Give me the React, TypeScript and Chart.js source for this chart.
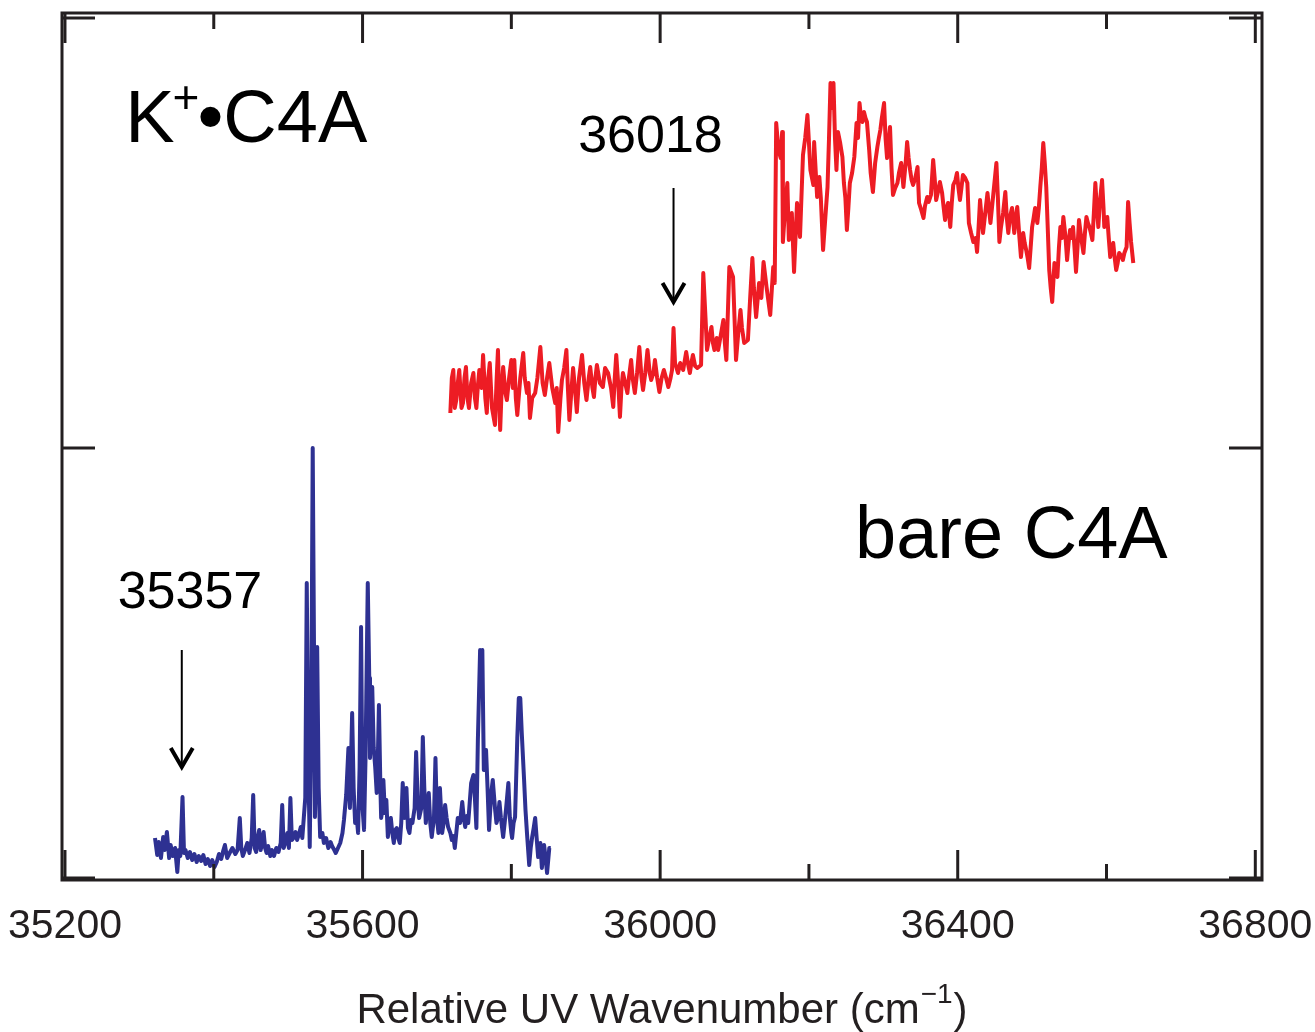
import React, { useEffect, useRef } from "react";
import { Chart, registerables } from "chart.js";

Chart.register(...registerables);

// ---------- data ----------
// bare C4A spectrum: [wavenumber (cm^-1), intensity (arb.)]
const bareSpectrum: [number, number][] = [
  [35321, 40], [35324, 23], [35326, 36], [35329, 20], [35332, 41], [35334, 28], [35337, 46], [35340, 20],
  [35342, 33], [35345, 22], [35348, 30], [35351, 6], [35353, 28], [35355, 22], [35358, 81], [35360, 25],
  [35362, 28], [35365, 20], [35368, 26], [35371, 18], [35374, 24], [35377, 16], [35380, 22], [35383, 17],
  [35386, 23], [35389, 14], [35392, 19], [35395, 12], [35398, 18], [35401, 11], [35404, 16], [35407, 24],
  [35410, 19], [35413, 28], [35415, 33], [35418, 20], [35422, 26], [35425, 30], [35429, 24], [35432, 28],
  [35435, 60], [35437, 30], [35439, 22], [35442, 28], [35445, 35], [35448, 25], [35451, 40], [35453, 83],
  [35455, 30], [35457, 26], [35459, 40], [35461, 48], [35463, 28], [35465, 35], [35467, 46], [35469, 30],
  [35471, 25], [35473, 32], [35476, 22], [35478, 28], [35481, 22], [35484, 30], [35487, 26], [35490, 35],
  [35492, 73], [35494, 30], [35496, 35], [35499, 45], [35501, 30], [35503, 80], [35505, 38], [35507, 40],
  [35510, 46], [35512, 38], [35515, 45], [35517, 51], [35519, 40], [35521, 60], [35523, 80], [35525, 295],
  [35527, 120], [35529, 31], [35531, 150], [35533, 430], [35535, 200], [35536, 61], [35538, 160], [35539, 231],
  [35541, 90], [35543, 41], [35546, 45], [35548, 35], [35551, 40], [35554, 30], [35557, 36], [35559, 32],
  [35562, 28], [35564, 25], [35567, 30], [35570, 35], [35573, 45], [35575, 58], [35578, 83], [35581, 130],
  [35583, 70], [35586, 165], [35588, 90], [35590, 55], [35592, 62], [35594, 45], [35596, 110], [35598, 251],
  [35600, 70], [35602, 48], [35604, 120], [35605, 180], [35607, 295], [35609, 200], [35610, 120], [35612, 160],
  [35613, 191], [35615, 130], [35617, 111], [35619, 85], [35620, 100], [35622, 173], [35624, 90], [35625, 60],
  [35627, 70], [35628, 98], [35630, 65], [35632, 78], [35634, 41], [35636, 55], [35638, 60], [35640, 45],
  [35642, 35], [35644, 48], [35646, 50], [35648, 40], [35650, 35], [35652, 55], [35654, 95], [35656, 60],
  [35659, 90], [35661, 50], [35663, 45], [35665, 58], [35667, 55], [35670, 70], [35672, 126], [35674, 80],
  [35676, 60], [35679, 70], [35681, 141], [35683, 90], [35685, 55], [35687, 70], [35689, 85], [35691, 55],
  [35693, 41], [35696, 60], [35698, 120], [35700, 60], [35702, 45], [35704, 90], [35707, 45], [35709, 55],
  [35711, 73], [35713, 60], [35715, 51], [35718, 45], [35720, 38], [35722, 42], [35724, 30], [35726, 45],
  [35728, 60], [35731, 55], [35734, 76], [35736, 60], [35738, 51], [35740, 62], [35742, 55], [35744, 75],
  [35746, 95], [35749, 103], [35751, 80], [35753, 50], [35755, 138], [35758, 228], [35760, 220], [35761, 228],
  [35763, 108], [35766, 128], [35768, 90], [35770, 48], [35773, 85], [35775, 98], [35778, 70], [35780, 55],
  [35782, 60], [35784, 76], [35786, 60], [35789, 41], [35791, 55], [35793, 70], [35796, 95], [35798, 60],
  [35800, 45], [35801, 40], [35803, 55], [35805, 61], [35808, 140], [35810, 180], [35812, 180], [35814, 145],
  [35817, 100], [35819, 68], [35821, 45], [35824, 13], [35826, 30], [35828, 41], [35830, 50], [35832, 60],
  [35834, 40], [35836, 21], [35839, 35], [35841, 10], [35844, 33], [35846, 20], [35848, 5], [35851, 30],
  [35853, 30],
];

// K+•C4A spectrum: [wavenumber (cm^-1), intensity (arb., offset)]
const complexSpectrum: [number, number][] = [
  [35718, 465], [35720, 500], [35722, 508], [35724, 470], [35726, 478], [35728, 495], [35730, 508], [35733, 470],
  [35735, 475], [35737, 500], [35739, 511], [35741, 480], [35743, 470], [35746, 495], [35749, 505], [35751, 480],
  [35753, 470], [35755, 492], [35757, 508], [35760, 490], [35762, 523], [35765, 480], [35767, 465], [35769, 500],
  [35771, 515], [35774, 470], [35778, 453], [35780, 495], [35782, 528], [35784, 470], [35785, 448], [35787, 490],
  [35789, 511], [35792, 485], [35794, 478], [35797, 500], [35800, 518], [35802, 490], [35804, 518], [35806, 480],
  [35808, 463], [35812, 500], [35816, 525], [35818, 500], [35821, 485], [35823, 495], [35825, 460], [35828, 480],
  [35832, 485], [35835, 500], [35839, 531], [35842, 495], [35845, 483], [35848, 500], [35851, 515], [35855, 490],
  [35859, 475], [35861, 490], [35863, 446], [35866, 480], [35868, 498], [35871, 510], [35874, 528], [35876, 490],
  [35878, 458], [35881, 490], [35883, 510], [35886, 485], [35888, 466], [35891, 500], [35895, 523], [35898, 495],
  [35901, 478], [35904, 500], [35906, 511], [35909, 490], [35911, 481], [35913, 500], [35915, 513], [35919, 495],
  [35923, 491], [35926, 510], [35930, 505], [35934, 490], [35937, 471], [35939, 500], [35941, 523], [35944, 490],
  [35946, 461], [35948, 490], [35950, 505], [35953, 495], [35956, 485], [35958, 500], [35961, 518], [35963, 500],
  [35966, 485], [35969, 505], [35972, 531], [35975, 500], [35977, 488], [35980, 505], [35983, 528], [35986, 505],
  [35988, 498], [35991, 505], [35993, 518], [35996, 500], [35999, 486], [36002, 500], [36005, 508], [36008, 500],
  [36011, 491], [36014, 500], [36016, 508], [36018, 550], [36020, 515], [36024, 505], [36027, 515], [36031, 508],
  [36035, 526], [36038, 512], [36040, 505], [36042, 515], [36044, 523], [36047, 512], [36050, 510], [36055, 513],
  [36058, 605], [36061, 560], [36063, 528], [36066, 540], [36069, 551], [36071, 535], [36073, 528], [36076, 540],
  [36078, 528], [36082, 545], [36085, 558], [36087, 535], [36089, 518], [36093, 611], [36098, 601], [36102, 518],
  [36105, 545], [36108, 568], [36110, 550], [36113, 535], [36118, 538], [36121, 580], [36124, 620], [36126, 590],
  [36129, 561], [36133, 595], [36136, 580], [36139, 616], [36143, 591], [36148, 563], [36152, 611], [36154, 595],
  [36156, 755], [36159, 728], [36162, 720], [36164, 746], [36165, 636], [36168, 670], [36171, 695], [36173, 638],
  [36177, 665], [36180, 606], [36184, 675], [36188, 641], [36192, 723], [36195, 740], [36198, 763], [36202, 708],
  [36206, 693], [36207, 736], [36211, 681], [36214, 701], [36216, 680], [36219, 628], [36222, 660], [36225, 691],
  [36227, 740], [36229, 795], [36231, 770], [36233, 795], [36235, 740], [36237, 708], [36239, 746], [36242, 735],
  [36245, 721], [36247, 695], [36249, 680], [36251, 648], [36253, 670], [36255, 695], [36258, 705], [36261, 721],
  [36264, 755], [36266, 740], [36268, 775], [36270, 760], [36272, 756], [36274, 766], [36276, 760], [36278, 756],
  [36281, 728], [36283, 705], [36286, 686], [36289, 715], [36292, 731], [36294, 740], [36296, 748], [36298, 760],
  [36301, 775], [36303, 740], [36305, 720], [36307, 735], [36309, 751], [36311, 710], [36313, 683], [36316, 690],
  [36319, 695], [36321, 705], [36324, 715], [36327, 691], [36330, 715], [36332, 736], [36334, 720], [36336, 708],
  [36338, 698], [36340, 693], [36343, 700], [36346, 711], [36348, 675], [36351, 668], [36354, 660], [36356, 672],
  [36359, 681], [36361, 676], [36364, 683], [36367, 718], [36369, 700], [36371, 678], [36374, 688], [36376, 696],
  [36379, 685], [36381, 671], [36383, 658], [36385, 670], [36387, 675], [36390, 651], [36392, 675], [36394, 693],
  [36397, 698], [36399, 705], [36401, 690], [36403, 678], [36405, 690], [36407, 703], [36410, 700], [36413, 695],
  [36415, 655], [36418, 645], [36421, 636], [36424, 640], [36426, 626], [36428, 650], [36430, 678], [36432, 660],
  [36434, 645], [36437, 665], [36440, 685], [36442, 670], [36444, 655], [36446, 670], [36448, 685], [36450, 700],
  [36452, 715], [36454, 680], [36456, 636], [36458, 650], [36461, 665], [36464, 686], [36466, 660], [36468, 645],
  [36470, 660], [36473, 670], [36476, 645], [36478, 660], [36480, 671], [36483, 640], [36485, 621], [36488, 645],
  [36490, 635], [36492, 628], [36494, 620], [36496, 610], [36498, 630], [36500, 651], [36502, 660], [36504, 670],
  [36507, 655], [36509, 670], [36511, 691], [36513, 710], [36515, 735], [36517, 715], [36519, 691], [36521, 650],
  [36523, 608], [36525, 590], [36527, 576], [36530, 615], [36532, 605], [36534, 601], [36536, 630], [36538, 651],
  [36540, 640], [36542, 661], [36545, 640], [36547, 618], [36549, 635], [36551, 648], [36553, 640], [36555, 651],
  [36557, 630], [36559, 606], [36561, 630], [36563, 658], [36566, 640], [36569, 625], [36571, 645], [36573, 661],
  [36575, 655], [36577, 651], [36579, 645], [36581, 638], [36583, 665], [36585, 695], [36587, 670], [36589, 651],
  [36591, 675], [36594, 698], [36596, 670], [36597, 651], [36599, 655], [36601, 661], [36603, 640], [36605, 621],
  [36607, 630], [36609, 635], [36611, 620], [36613, 608], [36615, 615], [36617, 625], [36620, 622], [36622, 618],
  [36624, 625], [36627, 631], [36629, 676], [36631, 655], [36633, 636], [36636, 615],
];

const xTickValues = [35200, 35400, 35600, 35800, 36000, 36200, 36400, 36600, 36800];
const xLabelValues = [35200, 35600, 36000, 36400, 36800];
const yTickValues = [0, 430, 860];
const xRange = [35196, 36809];
const yRange = [-2, 865];

const axisTitle = "Relative UV Wavenumber (cm";
const axisTitleSup = "\u22121";
const axisTitleEnd = ")";

const complexLabel = { base: "K", sup: "+", rest: "\u2022C4A", x: 35281, y: 736 };
const bareLabel = { text: "bare C4A", x: 36262, y: 320 };
const peakMarks = [
  { text: "36018", value: 36018, textX: 35987, textY: 726, top: 690, tip: 576 },
  { text: "35357", value: 35357, textX: 35368, textY: 270, top: 228, tip: 111 },
];

const RED = "#ED1C24";
const BLUE = "#2E3192";
const INK = "#231F20";
const FONT = "'Liberation Sans', Arial, Helvetica, sans-serif";

const framePlugin = {
  id: "frameAndNotes",
  afterDatasetsDraw(chart: any) {
    const { ctx, chartArea: a, scales } = chart;
    const xs = scales.x;
    const ys = scales.y;
    ctx.save();
    ctx.strokeStyle = INK;
    ctx.lineWidth = 3;
    ctx.lineCap = "butt";
    ctx.strokeRect(a.left, a.top, a.right - a.left, a.bottom - a.top);
    const seg = (x1: number, y1: number, x2: number, y2: number) => {
      ctx.beginPath();
      ctx.moveTo(x1, y1);
      ctx.lineTo(x2, y2);
      ctx.stroke();
    };
    xTickValues.forEach((v) => {
      const px = xs.getPixelForValue(v);
      const len = xLabelValues.includes(v) ? 30 : 16;
      seg(px, a.bottom, px, a.bottom - len);
      seg(px, a.top, px, a.top + len);
    });
    yTickValues.forEach((v) => {
      const py = ys.getPixelForValue(v);
      seg(a.left, py, a.left + 33, py);
      seg(a.right, py, a.right - 33, py);
    });

    // axis title with superscript
    ctx.fillStyle = INK;
    ctx.textBaseline = "alphabetic";
    ctx.textAlign = "left";
    const mainFont = `42px ${FONT}`;
    const supFont = `28px ${FONT}`;
    ctx.font = mainFont;
    const w1 = ctx.measureText(axisTitle).width;
    const w3 = ctx.measureText(axisTitleEnd).width;
    ctx.font = supFont;
    const w2 = ctx.measureText(axisTitleSup).width;
    const cx = (a.left + a.right) / 2;
    let tx = cx - (w1 + w2 + w3 + 2) / 2;
    const baseY = 1023;
    ctx.font = mainFont;
    ctx.fillText(axisTitle, tx, baseY);
    tx += w1 + 1;
    ctx.font = supFont;
    ctx.fillText(axisTitleSup, tx, baseY - 20);
    tx += w2 + 1;
    ctx.font = mainFont;
    ctx.fillText(axisTitleEnd, tx, baseY);

    // sample labels
    ctx.fillStyle = "#000";
    const bigFont = `74px ${FONT}`;
    let lx = xs.getPixelForValue(complexLabel.x);
    const ly = ys.getPixelForValue(complexLabel.y);
    ctx.font = bigFont;
    ctx.fillText(complexLabel.base, lx, ly);
    lx += ctx.measureText(complexLabel.base).width;
    ctx.font = `46px ${FONT}`;
    ctx.fillText(complexLabel.sup, lx - 2, ly - 29);
    lx += ctx.measureText(complexLabel.sup).width - 4;
    ctx.font = bigFont;
    ctx.fillText(complexLabel.rest, lx, ly);

    ctx.fillText(bareLabel.text, xs.getPixelForValue(bareLabel.x), ys.getPixelForValue(bareLabel.y));

    // peak markers
    peakMarks.forEach((m) => {
      ctx.font = `52px ${FONT}`;
      ctx.textAlign = "center";
      ctx.fillStyle = "#000";
      ctx.fillText(m.text, xs.getPixelForValue(m.textX), ys.getPixelForValue(m.textY));
      const px = xs.getPixelForValue(m.value);
      const yTop = ys.getPixelForValue(m.top);
      const yTip = ys.getPixelForValue(m.tip);
      ctx.strokeStyle = "#000";
      ctx.lineWidth = 2;
      seg(px, yTop, px, yTip - 2);
      ctx.lineWidth = 4;
      ctx.lineJoin = "miter";
      ctx.beginPath();
      ctx.moveTo(px - 11, yTip - 19);
      ctx.lineTo(px, yTip);
      ctx.lineTo(px + 11, yTip - 19);
      ctx.stroke();
    });
    ctx.restore();
  },
};

export default function App() {
  const canvasRef = useRef<HTMLCanvasElement | null>(null);

  useEffect(() => {
    const canvas = canvasRef.current;
    if (!canvas) return;
    const chart = new Chart(canvas, {
      type: "line",
      data: {
        datasets: [
          {
            label: "K+•C4A",
            data: complexSpectrum.map(([x, y]) => ({ x, y })),
            borderColor: RED,
            borderWidth: 4,
            pointRadius: 0,
            tension: 0,
            borderJoinStyle: "round",
          },
          {
            label: "bare C4A",
            data: bareSpectrum.map(([x, y]) => ({ x, y })),
            borderColor: BLUE,
            borderWidth: 4,
            pointRadius: 0,
            tension: 0,
            borderJoinStyle: "round",
          },
        ],
      },
      options: {
        animation: false,
        responsive: false,
        devicePixelRatio: 1,
        layout: { padding: { left: 62, top: 13, right: 53, bottom: 0 } },
        plugins: { legend: { display: false }, tooltip: { enabled: false } },
        scales: {
          x: {
            type: "linear",
            min: xRange[0],
            max: xRange[1],
            grid: { display: false, drawTicks: false },
            border: { display: false },
            afterBuildTicks: (scale: any) => {
              scale.ticks = xLabelValues.map((v) => ({ value: v }));
            },
            afterFit: (scale: any) => {
              scale.height = 152;
              scale.paddingLeft = 0;
              scale.paddingRight = 0;
            },
            ticks: {
              autoSkip: false,
              maxRotation: 0,
              minRotation: 0,
              padding: 22,
              color: INK,
              font: { family: FONT, size: 41 },
              callback: (v: any) => String(v),
            },
          },
          y: {
            type: "linear",
            display: false,
            min: yRange[0],
            max: yRange[1],
          },
        },
      },
      plugins: [framePlugin],
    } as any);
    return () => chart.destroy();
  }, []);

  return (
    <div style={{ position: "fixed", left: 0, top: 0, width: 1315, height: 1032, background: "#fff" }}>
      <canvas ref={canvasRef} width={1315} height={1032} style={{ width: 1315, height: 1032 }} />
    </div>
  );
}
